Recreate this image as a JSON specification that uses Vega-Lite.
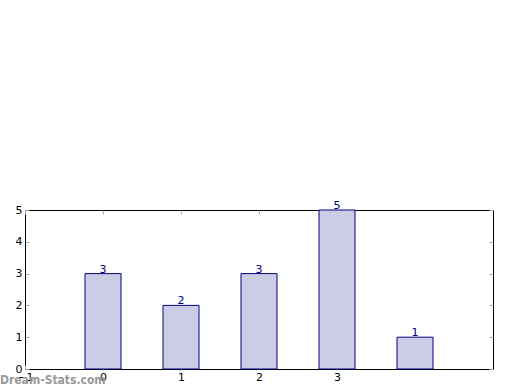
{
  "$schema": "https://vega.github.io/schema/vega-lite/v6.json",
  "autosize": {"type": "none"},
  "width": 468,
  "height": 159,
  "padding": {"left": 25, "top": 210, "right": 27, "bottom": 21},
  "background": "white",
  "config": {
    "view": {"stroke": "black", "strokeWidth": 1},
    "font": "DejaVu Sans",
    "axis": {
      "domain": false,
      "grid": false,
      "tickColor": "#aaaaaa",
      "tickSize": -4,
      "tickWidth": 1,
      "labelFont": "DejaVu Sans",
      "labelFontSize": 11,
      "labelColor": "black",
      "title": null
    }
  },
  "title": {
    "text": "Dream-Stats.com",
    "orient": "bottom",
    "anchor": "start",
    "frame": "group",
    "dx": -25,
    "offset": -7,
    "color": "#999999",
    "fontSize": 12,
    "fontWeight": "bold",
    "font": "DejaVu Sans Condensed"
  },
  "data": {
    "values": [
      {"x": 0, "count": 3},
      {"x": 1, "count": 2},
      {"x": 2, "count": 3},
      {"x": 3, "count": 5},
      {"x": 4, "count": 1}
    ]
  },
  "resolve": {"axis": {"x": "independent", "y": "independent"}},
  "layer": [
    {
      "mark": {"type": "bar", "width": 36, "fill": "#ccccE6", "stroke": "#000080", "strokeWidth": 1},
      "encoding": {
        "x": {
          "field": "x", "type": "quantitative",
          "scale": {"domain": [-1, 5], "nice": false, "zero": false, "padding": 0},
          "axis": {"orient": "bottom", "values": [-1, 0, 1, 2, 3], "labelPadding": 6, "format": "d", "labelFlush": false}
        },
        "y": {
          "field": "count", "type": "quantitative",
          "scale": {"domain": [0, 5], "nice": false, "padding": 0},
          "axis": {"orient": "left", "values": [0, 1, 2, 3, 4, 5], "labelPadding": 7, "format": "d", "labelFlush": false}
        }
      }
    },
    {
      "mark": {"type": "text", "baseline": "bottom", "dy": 1, "color": "#000080", "fontSize": 11, "font": "DejaVu Sans"},
      "encoding": {
        "x": {
          "field": "x", "type": "quantitative",
          "axis": {"orient": "top", "values": [-1, 0, 1, 2, 3], "labels": false}
        },
        "y": {
          "field": "count", "type": "quantitative",
          "axis": {"orient": "right", "values": [0, 1, 2, 3, 4, 5], "labels": false}
        },
        "text": {"field": "count", "type": "quantitative"}
      }
    }
  ]
}
